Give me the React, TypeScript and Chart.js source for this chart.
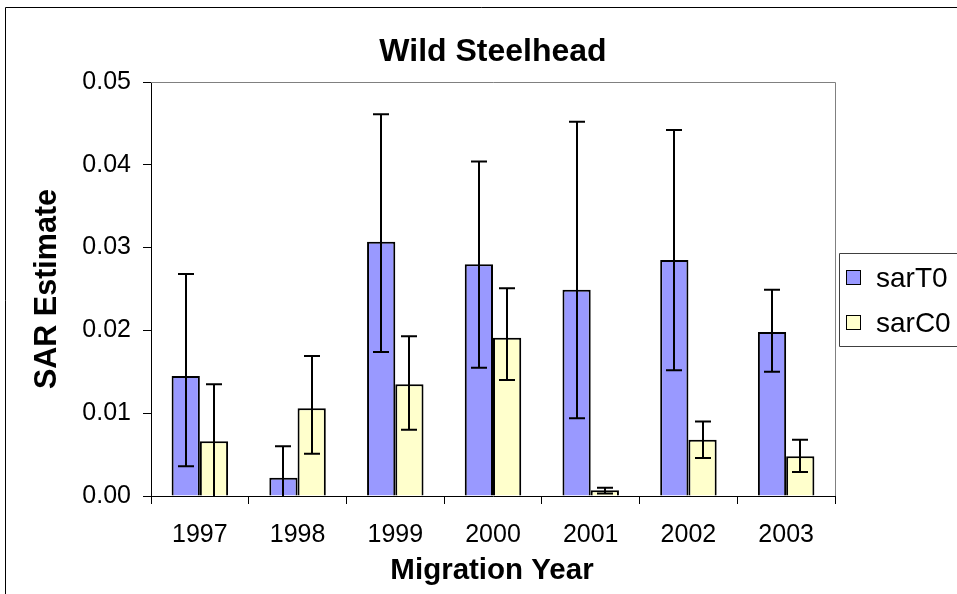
import React, { useEffect, useRef } from "react";
import { Chart, registerables } from "chart.js";

Chart.register(...registerables);

const years = ["1997", "1998", "1999", "2000", "2001", "2002", "2003"];
const sarT0 = [0.0145, 0.0022, 0.0307, 0.028, 0.0249, 0.0285, 0.0198];
const sarT0Upper = [0.0268, 0.006, 0.0461, 0.0404, 0.0452, 0.0442, 0.0249];
const sarT0Lower = [0.0036, -0.0016, 0.0174, 0.0155, 0.0094, 0.0152, 0.015];
const sarC0 = [0.0066, 0.0106, 0.0135, 0.0191, 0.0007, 0.0068, 0.0048];
const sarC0Upper = [0.0135, 0.0169, 0.0193, 0.0251, 0.001, 0.009, 0.0068];
const sarC0Lower = [-0.0003, 0.0051, 0.008, 0.014, 0.0003, 0.0046, 0.0029];
const yTicks = [0, 0.01, 0.02, 0.03, 0.04, 0.05];

const seriesNames = ["sarT0", "sarC0"];
const seriesColors = ["#9999FF", "#FFFFCC"];
const FONT = "'Liberation Sans', Arial, sans-serif";

const errorBarsPlugin = {
  id: "errorBars",
  afterDatasetsDraw(chart: any) {
    const { ctx, chartArea } = chart;
    const yScale = chart.scales.y;
    const highs = [sarT0Upper, sarC0Upper];
    const lows = [sarT0Lower, sarC0Lower];
    ctx.save();
    ctx.beginPath();
    ctx.rect(chartArea.left, chartArea.top, chartArea.right - chartArea.left, chartArea.bottom - chartArea.top + 1);
    ctx.clip();
    ctx.strokeStyle = "#000";
    ctx.lineWidth = 2;
    chart.data.datasets.forEach((_: any, di: number) => {
      const meta = chart.getDatasetMeta(di);
      meta.data.forEach((bar: any, i: number) => {
        const x = Math.round(bar.x);
        const yh = yScale.getPixelForValue(highs[di][i]);
        const yl = yScale.getPixelForValue(lows[di][i]);
        ctx.beginPath();
        ctx.moveTo(x, yh);
        ctx.lineTo(x, yl);
        ctx.moveTo(x - 8, yh);
        ctx.lineTo(x + 8, yh);
        ctx.moveTo(x - 8, yl);
        ctx.lineTo(x + 8, yl);
        ctx.stroke();
      });
    });
    ctx.restore();
  },
};

const decorPlugin = {
  id: "decor",
  beforeDraw(chart: any) {
    const { ctx } = chart;
    ctx.save();
    ctx.fillStyle = "#fff";
    ctx.fillRect(0, 0, chart.width, chart.height);
    ctx.restore();
  },
  afterDraw(chart: any) {
    const { ctx, chartArea } = chart;
    ctx.save();
    // outer frame
    ctx.strokeStyle = "#000";
    ctx.lineWidth = 1;
    ctx.beginPath();
    ctx.moveTo(5.5, chart.height);
    ctx.lineTo(5.5, 7.5);
    ctx.lineTo(chart.width, 7.5);
    ctx.stroke();
    // plot area top/right border
    ctx.strokeStyle = "#808080";
    ctx.beginPath();
    ctx.moveTo(chartArea.left, Math.round(chartArea.top) + 0.5);
    ctx.lineTo(Math.round(chartArea.right) + 0.5, Math.round(chartArea.top) + 0.5);
    ctx.lineTo(Math.round(chartArea.right) + 0.5, chartArea.bottom);
    ctx.stroke();
    // title
    ctx.fillStyle = "#000";
    ctx.textAlign = "center";
    ctx.textBaseline = "alphabetic";
    ctx.font = `bold 32px ${FONT}`;
    ctx.fillText("Wild Steelhead", 493, 61);
    // x axis title
    ctx.font = `bold 29.5px ${FONT}`;
    ctx.fillText("Migration Year", 492, 579);
    // y axis title
    ctx.save();
    ctx.font = `bold 30.5px ${FONT}`;
    ctx.translate(56, 289);
    ctx.rotate(-Math.PI / 2);
    ctx.fillText("SAR Estimate", 0, 0);
    ctx.restore();
    // legend
    ctx.strokeStyle = "#404040";
    ctx.lineWidth = 1;
    ctx.beginPath();
    ctx.moveTo(chart.width, 253.5);
    ctx.lineTo(839.5, 253.5);
    ctx.lineTo(839.5, 346.5);
    ctx.lineTo(chart.width, 346.5);
    ctx.stroke();
    const rows = [278, 323];
    ctx.font = `28px ${FONT}`;
    ctx.textAlign = "left";
    ctx.textBaseline = "middle";
    seriesNames.forEach((name, i) => {
      const cy = rows[i];
      ctx.fillStyle = seriesColors[i];
      ctx.fillRect(846.5, cy - 7.5, 14, 14);
      ctx.strokeStyle = "#000";
      ctx.strokeRect(846.5, cy - 7.5, 14, 14);
      ctx.fillStyle = "#000";
      ctx.fillText(name, 876, cy + 1);
    });
    ctx.restore();
  },
};

export default function App() {
  const canvasRef = useRef<HTMLCanvasElement | null>(null);

  useEffect(() => {
    if (!canvasRef.current) return;
    const chart = new Chart(canvasRef.current, {
      type: "bar",
      data: {
        labels: years,
        datasets: [
          {
            label: seriesNames[0],
            data: sarT0,
            backgroundColor: seriesColors[0],
            borderColor: "#000",
            borderWidth: 2,
            categoryPercentage: 0.578,
            barPercentage: 1,
          },
          {
            label: seriesNames[1],
            data: sarC0,
            backgroundColor: seriesColors[1],
            borderColor: "#000",
            borderWidth: 2,
            categoryPercentage: 0.578,
            barPercentage: 1,
          },
        ],
      },
      options: {
        animation: false,
        responsive: false,
        maintainAspectRatio: false,
        layout: { padding: { left: 0, top: 82, right: 122, bottom: 0 } },
        plugins: {
          legend: { display: false },
          title: { display: false },
          tooltip: { enabled: false },
        },
        scales: {
          x: {
            grid: {
              drawOnChartArea: false,
              drawTicks: true,
              tickLength: 8,
              color: "#000",
              tickColor: "#000",
              offset: true,
            },
            border: { display: true, color: "#000", width: 1 },
            ticks: {
              color: "#000",
              font: { family: FONT, size: 25 },
              padding: 16,
              maxRotation: 0,
            },
            afterFit(scale: any) {
              scale.height = 98;
            },
          },
          y: {
            min: 0,
            max: 0.05,
            afterBuildTicks(scale: any) {
              scale.ticks = yTicks.map((v) => ({ value: v }));
            },
            grid: {
              drawOnChartArea: false,
              drawTicks: true,
              tickLength: 8,
              color: "#000",
              tickColor: "#000",
            },
            border: { display: true, color: "#000", width: 1 },
            ticks: {
              color: "#000",
              font: { family: FONT, size: 25 },
              padding: 12,
              callback: (v: any) => Number(v).toFixed(2),
            },
            afterFit(scale: any) {
              scale.width = 151;
            },
          },
        },
      },
      plugins: [decorPlugin, errorBarsPlugin],
    });
    return () => chart.destroy();
  }, []);

  return (
    <div style={{ position: "absolute", left: 0, top: 0, width: 957, height: 594 }}>
      <canvas ref={canvasRef} width={957} height={594} style={{ display: "block" }} />
    </div>
  );
}
